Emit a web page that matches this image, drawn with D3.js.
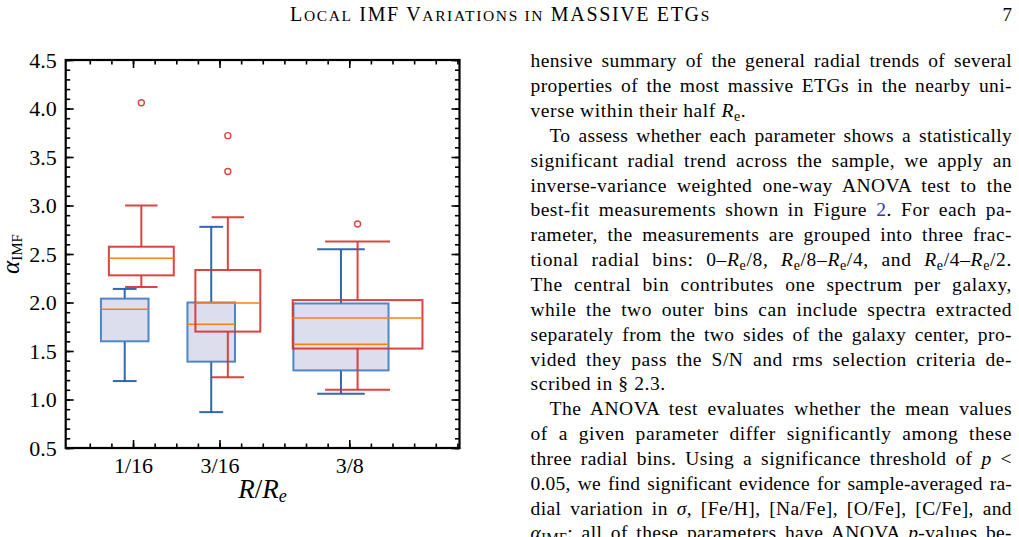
<!DOCTYPE html>
<html><head><meta charset="utf-8">
<script src="https://cdn.jsdelivr.net/npm/d3@7"></script>
<style>body{margin:0;background:#fff} svg{display:block}</style>
</head><body>
<svg id="c" width="1019" height="537"></svg>
<script>
// ---------- data ----------
const categories = ["1/16", "3/16", "3/8"];
const binCenters = [1/16, 3/16, 3/8];
const binEdges = [0, 1/8, 1/4, 1/2];
const yTickValues = [0.5, 1.0, 1.5, 2.0, 2.5, 3.0, 3.5, 4.0, 4.5];
const yTickLabels = ["0.5", "1.0", "1.5", "2.0", "2.5", "3.0", "3.5", "4.0", "4.5"];

// blue series (filled boxes)
const blueWhiskerLow  = [1.19, 0.87, 1.06];
const blueQ1          = [1.60, 1.39, 1.30];
const blueMedian      = [1.93, 1.775, 1.57];
const blueQ3          = [2.04, 2.00, 1.99];
const blueWhiskerHigh = [2.14, 2.78, 2.55];
const blueOutliers    = [[], [], []];

// red series (open boxes)
const redWhiskerLow  = [2.16, 1.23, 1.10];
const redQ1          = [2.28, 1.70, 1.525];
const redMedian      = [2.455, 1.995, 1.84];
const redQ3          = [2.575, 2.335, 2.025];
const redWhiskerHigh = [3.00, 2.88, 2.63];
const redOutliers    = [[4.06], [3.72, 3.35], [2.81]];

// header: [text, smallcap?]
const headerParts = [["L", 0], ["ocal", 1], [" IMF ", 0], ["V", 0], ["ariations in", 1], [" MASSIVE ETG", 0], ["s", 1]];
const pageNumber = "7";
// *x* italic, _x_ subscript, #x# link ; [line, indent, justify]
const bodyLines = [
  ["hensive summary of the general radial trends of several", 0, 1],
  ["properties of the most massive ETGs in the nearby uni-", 0, 1],
  ["verse within their half *R*_e_.", 0, 0],
  ["To assess whether each parameter shows a statistically", 1, 1],
  ["significant radial trend across the sample, we apply an", 0, 1],
  ["inverse-variance weighted one-way ANOVA test to the", 0, 1],
  ["best-fit measurements shown in Figure #2#. For each pa-", 0, 1],
  ["rameter, the measurements are grouped into three frac-", 0, 1],
  ["tional radial bins: 0–*R*_e_/8, *R*_e_/8–*R*_e_/4, and *R*_e_/4–*R*_e_/2.", 0, 1],
  ["The central bin contributes one spectrum per galaxy,", 0, 1],
  ["while the two outer bins can include spectra extracted", 0, 1],
  ["separately from the two sides of the galaxy center, pro-", 0, 1],
  ["vided they pass the S/N and rms selection criteria de-", 0, 1],
  ["scribed in § 2.3.", 0, 0],
  ["The ANOVA test evaluates whether the mean values", 1, 1],
  ["of a given parameter differ significantly among these", 0, 1],
  ["three radial bins. Using a significance threshold of *p* <", 0, 1],
  ["0.05, we find significant evidence for sample-averaged ra-", 0, 1],
  ["dial variation in *σ*, [Fe/H], [Na/Fe], [O/Fe], [C/Fe], and", 0, 1],
  ["*α*_IMF_; all of these parameters have ANOVA *p*-values be-", 0, 1]
];

// ---------- drawing ----------
const svg = d3.select("#c");
svg.append("rect").attr("width", 1019).attr("height", 537).attr("fill", "#fff");

const L = 65.7, R = 459.5, T = 60, B = 448;
const x = d3.scaleLinear().domain([-0.0348, 0.5343]).range([L, R]);
const y = d3.scaleLinear().domain([0.5, 4.5]).range([B, T]);

const serif = "Liberation Serif";

function drawBoxes(s, opt) {
  const g = svg.append("g");
  binCenters.forEach((c, i) => {
    const bw = opt.widthFrac * (binEdges[i + 1] - binEdges[i]);
    const cx = c + opt.offset;
    const xl = x(cx - bw / 2), xr = x(cx + bw / 2), xm = x(cx);
    const cl = x(cx - bw / 4), cr = x(cx + bw / 4);
    const ws = {stroke: opt.whisker, "stroke-width": 2, "stroke-opacity": opt.alpha};
    const line = (x1, y1, x2, y2, st) => {
      const l = g.append("line").attr("x1", x1).attr("y1", y1).attr("x2", x2).attr("y2", y2);
      Object.entries(st).forEach(([k, v]) => l.attr(k, v));
    };
    line(xm, y(s.q3[i]), xm, y(s.hi[i]), ws);
    line(xm, y(s.q1[i]), xm, y(s.lo[i]), ws);
    line(cl, y(s.hi[i]), cr, y(s.hi[i]), ws);
    line(cl, y(s.lo[i]), cr, y(s.lo[i]), ws);
    g.append("rect").attr("x", xl).attr("y", y(s.q3[i]))
      .attr("width", xr - xl).attr("height", y(s.q1[i]) - y(s.q3[i]))
      .attr("fill", opt.fill).attr("stroke", opt.edge).attr("stroke-width", 2)
      .attr("stroke-opacity", opt.alpha);
    line(xl, y(s.med[i]), xr, y(s.med[i]), {stroke: "#ff7f0e", "stroke-width": 1.5});
    s.out[i].forEach(v => {
      g.append("circle").attr("cx", xm).attr("cy", y(v)).attr("r", 3)
        .attr("fill", "none").attr("stroke", opt.whisker).attr("stroke-width", 1.4)
        .attr("stroke-opacity", opt.alpha);
    });
  });
}

drawBoxes({lo: blueWhiskerLow, q1: blueQ1, med: blueMedian, q3: blueQ3, hi: blueWhiskerHigh, out: blueOutliers},
  {offset: -0.012, widthFrac: 0.55, fill: "#dcdeed", edge: "#3f7bc0", whisker: "#1c58a4", alpha: 0.9});
drawBoxes({lo: redWhiskerLow, q1: redQ1, med: redMedian, q3: redQ3, hi: redWhiskerHigh, out: redOutliers},
  {offset: 0.012, widthFrac: 0.75, fill: "none", edge: "#d8302c", whisker: "#d8302c", alpha: 0.9});

// axes
const yMinor = d3.range(5, 46).map(v => v / 10);
const xMinor = d3.range(0, 18).map(v => v / 32);
function styleAxis(g) {
  g.attr("font-family", serif);
  g.select(".domain").remove();
  g.selectAll(".tick line").attr("stroke", "#000").attr("stroke-width", 1.6);
  g.selectAll(".tick text").attr("font-family", serif).attr("font-size", 22).attr("fill", "#000");
}
svg.append("g").attr("transform", `translate(${L},0)`)
  .call(d3.axisLeft(y).tickValues(yTickValues).tickFormat((d, i) => yTickLabels[i]).tickSize(-8).tickPadding(9))
  .call(styleAxis);
svg.append("g").attr("transform", `translate(${L},0)`)
  .call(d3.axisLeft(y).tickValues(yMinor).tickFormat("").tickSize(-4.5)).call(styleAxis);
svg.append("g").attr("transform", `translate(${R},0)`)
  .call(d3.axisRight(y).tickValues(yTickValues).tickFormat("").tickSize(-8)).call(styleAxis);
svg.append("g").attr("transform", `translate(${R},0)`)
  .call(d3.axisRight(y).tickValues(yMinor).tickFormat("").tickSize(-4.5)).call(styleAxis);
svg.append("g").attr("transform", `translate(0,${B})`)
  .call(d3.axisBottom(x).tickValues(binCenters).tickFormat((d, i) => categories[i]).tickSize(-8).tickPadding(9))
  .call(styleAxis);
svg.append("g").attr("transform", `translate(0,${B})`)
  .call(d3.axisBottom(x).tickValues(xMinor).tickFormat("").tickSize(-4.5)).call(styleAxis);
svg.append("g").attr("transform", `translate(0,${T})`)
  .call(d3.axisTop(x).tickValues(binCenters).tickFormat("").tickSize(-8)).call(styleAxis);
svg.append("g").attr("transform", `translate(0,${T})`)
  .call(d3.axisTop(x).tickValues(xMinor).tickFormat("").tickSize(-4.5)).call(styleAxis);

svg.append("rect").attr("x", L).attr("y", T).attr("width", R - L).attr("height", B - T)
  .attr("fill", "none").attr("stroke", "#000").attr("stroke-width", 2.2);

// axis labels
const yl = svg.append("text").attr("transform", `translate(19,${(T + B) / 2}) rotate(-90)`)
  .attr("text-anchor", "middle").attr("font-family", serif).attr("fill", "#000");
yl.append("tspan").attr("font-style", "italic").attr("font-size", 25).text("α");
yl.append("tspan").attr("font-size", 15).attr("dy", 3).text("IMF");

const xlab = svg.append("text").attr("x", (L + R) / 2).attr("y", 498)
  .attr("text-anchor", "middle").attr("font-family", serif).attr("font-size", 27).attr("fill", "#000");
xlab.append("tspan").attr("font-style", "italic").text("R");
xlab.append("tspan").text("/");
xlab.append("tspan").attr("font-style", "italic").text("R");
xlab.append("tspan").attr("font-style", "italic").attr("font-size", 18).attr("dy", 4).text("e");

// header
const hd = svg.append("text").attr("x", 290).attr("y", 21).attr("font-family", serif)
  .attr("fill", "#000").attr("xml:space", "preserve");
headerParts.forEach(([s, sc]) => {
  hd.append("tspan").attr("font-size", sc ? 15.5 : 20).text(sc ? s.toUpperCase() : s);
});
{
  const nat = hd.node().getComputedTextLength();
  const n = headerParts.map(p => p[0]).join("").length;
  hd.style("letter-spacing", ((421 - nat) / n) + "px");
}
svg.append("text").attr("x", 1012).attr("y", 21).attr("text-anchor", "end").attr("font-family", serif)
  .attr("font-size", 19).attr("fill", "#000").text(pageNumber);

// body text
const colL = 530.5, colR = 1012, base0 = 67.3, lead = 24.85;
bodyLines.forEach(([str, indent, justify], k) => {
  const x0 = colL + (indent ? 19 : 0);
  const t = svg.append("text").attr("x", x0).attr("y", base0 + k * lead)
    .attr("font-family", serif).attr("font-size", 19.5).attr("fill", "#000")
    .attr("xml:space", "preserve");
  const parts = str.split(/(\*[^*]+\*|_[^_]+_|#[^#]+#)/).filter(p => p.length);
  let shift = 0, nChars = 0;
  parts.forEach(p => {
    const ts = t.append("tspan");
    let dy = 0, txt = p;
    if (p[0] === "_") {
      txt = p.slice(1, -1);
      ts.attr("font-size", 14);
      dy = 4 - shift; shift = 4;
    } else {
      dy = -shift; shift = 0;
      if (p[0] === "*") { txt = p.slice(1, -1); ts.attr("font-style", "italic"); }
      else if (p[0] === "#") { txt = p.slice(1, -1); ts.attr("fill", "#3535b5"); }
    }
    ts.text(txt);
    nChars += txt.length;
    if (dy) ts.attr("dy", dy);
  });
  const nat = t.node().getComputedTextLength();
  if (justify) {
    const spaces = (str.match(/ /g) || []).length;
    const diff = (colR - x0) - nat;
    let ls = diff > 0 ? Math.min(0.7, diff * 0.45 / nChars) : diff / nChars;
    const rest = diff - ls * nChars;
    t.style("letter-spacing", ls + "px");
    if (spaces > 0) t.style("word-spacing", (rest / spaces) + "px");
  } else {
    t.style("letter-spacing", "0.6px");
  }
});
</script>
</body></html>
